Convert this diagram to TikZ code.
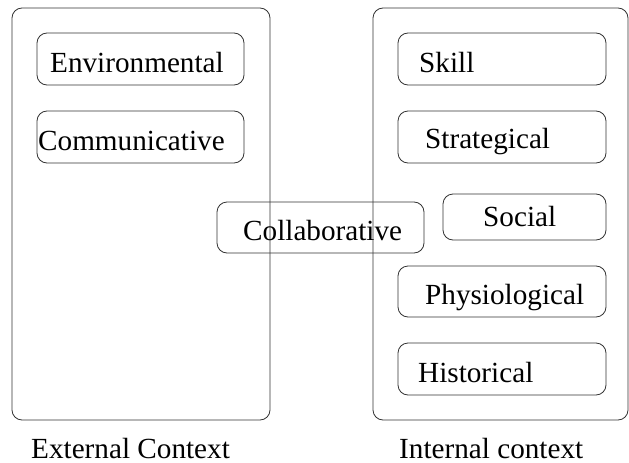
\documentclass[tikz,border=0pt]{standalone}
\usepackage{fontspec}
\setmainfont{Liberation Serif}
\tikzset{
  box/.style={draw=black!80, line width=0.8pt, rounded corners=10pt, inner sep=0pt, minimum width=#1},
  box/.default=207pt,
  outer/.style={draw=black!80, line width=0.8pt, rounded corners=10pt, inner sep=0pt},
  lbl/.style={inner sep=0pt, font=\fontsize{29.2}{34}\selectfont, anchor=base west}
}
\begin{document}
\begin{tikzpicture}[x=1pt,y=-1pt]
\useasboundingbox (0,0) rectangle (629,463);
% outer containers
\node[outer, minimum width=258pt, minimum height=412pt] (ext) at (141,214) {};
\node[outer, minimum width=255pt, minimum height=412pt] (int) at (500.5,214) {};
% left boxes
\node[box, minimum height=52pt] (env) at (140.5,59) {};
\node[box, minimum height=52pt] (com) at (140.5,137) {};
\node[lbl] (envt) at (50,72) {Environmental};
\node[lbl] (comt) at (38,150) {Communicative};
% collaborative
\node[box, minimum height=51pt] (col) at (320.5,227.5) {};
\node[lbl] (colt) at (243,240) {Collaborative};
% right boxes
\node[box=208pt, minimum height=52pt] (ski) at (502,59) {};
\node[box=208pt, minimum height=52pt] (str) at (502,137) {};
\node[box=163pt, minimum height=46pt] (soc) at (524.5,217) {};
\node[box=208pt, minimum height=51pt] (phy) at (502,291.5) {};
\node[box=208pt, minimum height=52pt] (his) at (502,369) {};
\node[lbl] (skit) at (419,72) {Skill};
\node[lbl] (strt) at (425,148) {Strategical};
\node[lbl] (soct) at (483,226) {Social};
\node[lbl] (phyt) at (425,304) {Physiological};
\node[lbl] (hist) at (418,382) {Historical};
% captions
\node[lbl] (extc) at (31,458) {External Context};
\node[lbl] (intc) at (399,458) {Internal context};
\end{tikzpicture}
\end{document}
